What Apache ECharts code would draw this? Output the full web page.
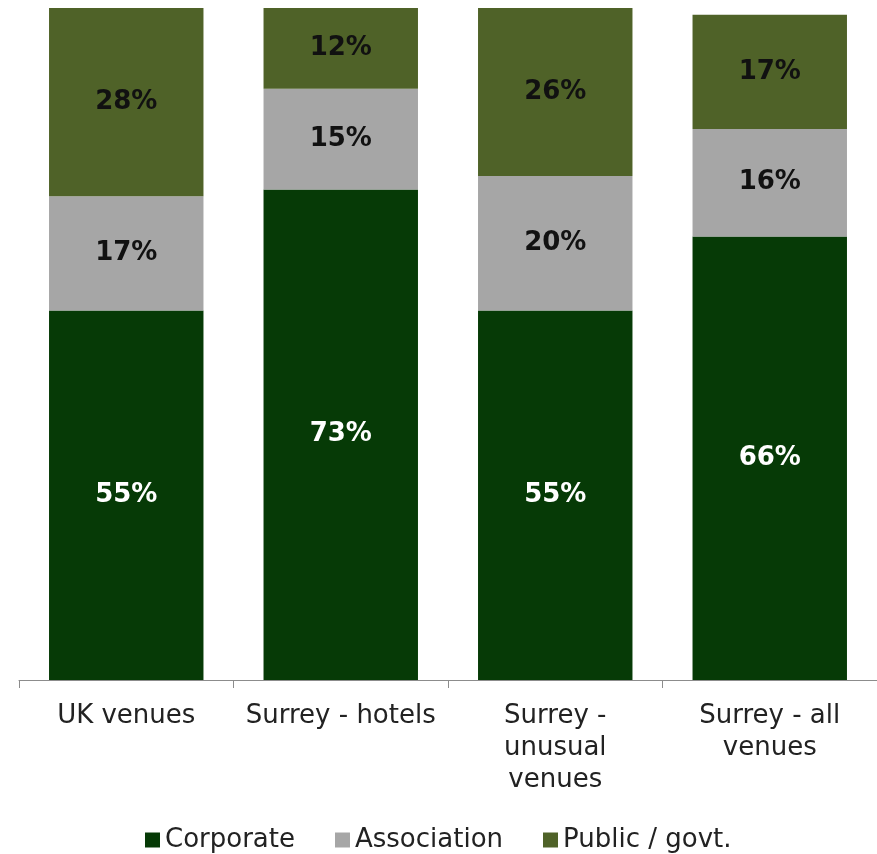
<!DOCTYPE html>
<html>
<head>
<meta charset="utf-8">
<script src="https://cdn.jsdelivr.net/npm/echarts@6/dist/echarts.min.js"></script>
<style>
  html, body { margin: 0; padding: 0; background: #ffffff; }
  #chart { width: 877px; height: 854px; }
</style>
</head>
<body>
<div id="chart"></div>
<script>
// Venue categories (line breaks mirror the wrapped axis labels)
const categories = ['UK venues', 'Surrey - hotels', 'Surrey -\nunusual\nvenues', 'Surrey - all\nvenues'];

// Share of events by client type, in percent
const corporate   = [55, 73, 55, 66];
const association = [17, 15, 20, 16];
const publicGovt  = [28, 12, 26, 17];

const seriesNames = ['Corporate', 'Association', 'Public / govt.'];
const colors = ['#063a06', '#a6a6a6', '#4f6228'];
const labelColors = ['#ffffff', '#111111', '#111111'];

const FONT = '"DejaVu Sans", Verdana, sans-serif';

function barSeries(name, data, idx) {
  return {
    name: name,
    type: 'bar',
    stack: 'total',
    data: data,
    barWidth: '72%',
    clip: true,
    itemStyle: { color: colors[idx] },
    label: {
      show: true,
      position: 'inside',
      formatter: '{c}%',
      color: labelColors[idx],
      fontFamily: FONT,
      fontWeight: 'bold',
      fontSize: 26
    }
  };
}

const chart = echarts.init(document.getElementById('chart'), null, { renderer: 'canvas' });
chart.setOption({
  backgroundColor: '#ffffff',
  animation: false,
  color: colors,
  grid: { left: 19, width: 861, top: 8, height: 672 },
  xAxis: {
    type: 'category',
    data: categories,
    boundaryGap: true,
    axisLine: { show: true, lineStyle: { color: '#8c8c8c', width: 1 } },
    axisTick: { show: true, alignWithLabel: false, length: 8, lineStyle: { color: '#8c8c8c' } },
    axisLabel: {
      interval: 0,
      margin: 20,
      color: '#222222',
      fontFamily: FONT,
      fontSize: 26,
      lineHeight: 32,
      align: 'center'
    }
  },
  yAxis: {
    type: 'value',
    min: 0,
    max: 100,
    show: false,
    splitLine: { show: false }
  },
  legend: {
    data: seriesNames,
    left: 140,
    top: 822,
    itemWidth: 15,
    itemHeight: 15,
    itemGap: 40,
    icon: 'rect',
    textStyle: { color: '#222222', fontFamily: FONT, fontSize: 26 }
  },
  series: [
    barSeries(seriesNames[0], corporate, 0),
    barSeries(seriesNames[1], association, 1),
    barSeries(seriesNames[2], publicGovt, 2)
  ]
});
</script>
</body>
</html>
